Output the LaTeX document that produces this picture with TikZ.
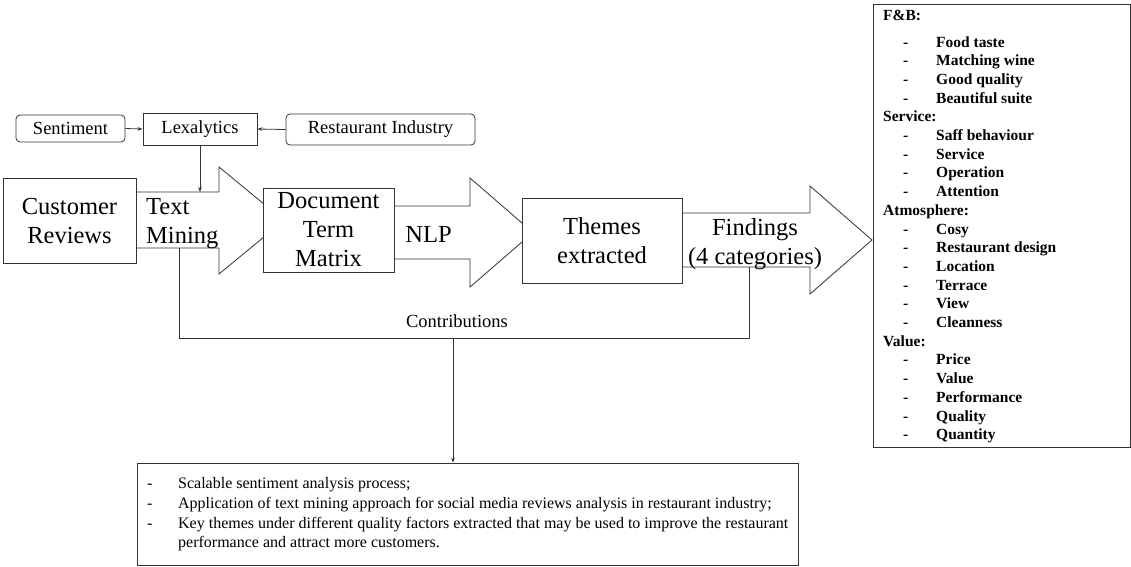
\documentclass[tikz,border=0pt]{standalone}
\usepackage{fontspec}
\setmainfont{Liberation Serif}
\usetikzlibrary{arrows.meta}
\begin{document}
\begin{tikzpicture}[x=1pt,y=-1pt,
  ln/.style={line width=0.8pt, draw=black!80},
  arr/.style={ln, -{Stealth[length=5pt,width=3.6pt]}},
  blk/.style={ln, fill=white, line join=miter},
  box/.style={ln, rectangle, fill=white, inner sep=0pt, align=center},
  rbox/.style={box, rounded corners=4pt},
  small/.style={font=\rmfamily\fontsize{18.5}{22}\selectfont},
  big/.style={font=\rmfamily\fontsize{24.5}{29}\selectfont},
  lbl/.style={inner sep=0pt, align=center}]
\useasboundingbox (0,0) rectangle (1131,566);

% block arrows
\draw[blk] (130,192) -- (219,192) -- (219,167) -- (284,220.5) -- (219,274) -- (219,248) -- (130,248) -- cycle;
\draw[blk] (390,206) -- (470,206) -- (470,178) -- (533,232.5) -- (470,287) -- (470,259) -- (390,259) -- cycle;
\draw[blk] (678,213) -- (810,213) -- (810,186) -- (872,240) -- (810,294) -- (810,267) -- (678,267) -- cycle;

% boxes
\node[rbox, small, minimum width=109, minimum height=27] (sent) at (70.5,128.5) {Sentiment};
\node[box, small, minimum width=114, minimum height=32] (lex) at (200,129) {Lexalytics};
\node[rbox, small, minimum width=189, minimum height=31] (rest) at (380.5,129.5) {Restaurant Industry};
\node[box, big, minimum width=133, minimum height=85] (cust) at (69.5,221) {Customer\\Reviews};
\node[box, big, minimum width=131, minimum height=84] (dtm) at (328.5,230) {Document\\Term\\Matrix};
\node[box, big, minimum width=160, minimum height=85] (theme) at (602,241) {Themes\\extracted};
\node[box, minimum width=257, minimum height=443] (cats) at (1001.5,225.5) {};
\node[box, minimum width=661, minimum height=102] (bot) at (467.5,514) {};

% labels on arrows
\node[lbl, big, anchor=west, align=left] (tm) at (146,223.5) {Text\\Mining};
\node[lbl, big] (nlp) at (428.5,234) {NLP};
\node[lbl, big] (find) at (755,244) {Findings\\(4 categories)};
\node[lbl, small] (contrib) at (457,321) {Contributions};

% category list
\node[inner sep=0pt, anchor=north west, align=left,
      font=\rmfamily\bfseries\fontsize{15.5}{18.7}\selectfont] (cattext) at (883,9.5) {%
F\&B:\\[8.3pt]
\hspace*{20pt}\makebox[33pt][l]{-}Food taste\\
\hspace*{20pt}\makebox[33pt][l]{-}Matching wine\\
\hspace*{20pt}\makebox[33pt][l]{-}Good quality\\
\hspace*{20pt}\makebox[33pt][l]{-}Beautiful suite\\
Service:\\
\hspace*{20pt}\makebox[33pt][l]{-}Saff behaviour\\
\hspace*{20pt}\makebox[33pt][l]{-}Service\\
\hspace*{20pt}\makebox[33pt][l]{-}Operation\\
\hspace*{20pt}\makebox[33pt][l]{-}Attention\\
Atmosphere:\\
\hspace*{20pt}\makebox[33pt][l]{-}Cosy\\
\hspace*{20pt}\makebox[33pt][l]{-}Restaurant design\\
\hspace*{20pt}\makebox[33pt][l]{-}Location\\
\hspace*{20pt}\makebox[33pt][l]{-}Terrace\\
\hspace*{20pt}\makebox[33pt][l]{-}View\\
\hspace*{20pt}\makebox[33pt][l]{-}Cleanness\\
Value:\\
\hspace*{20pt}\makebox[33pt][l]{-}Price\\
\hspace*{20pt}\makebox[33pt][l]{-}Value\\
\hspace*{20pt}\makebox[33pt][l]{-}Performance\\
\hspace*{20pt}\makebox[33pt][l]{-}Quality\\
\hspace*{20pt}\makebox[33pt][l]{-}Quantity};

% contributions list
\node[inner sep=0pt, anchor=north west, align=left,
      font=\rmfamily\fontsize{16}{19.6}\selectfont] (contlist) at (147,477.5) {%
\makebox[31pt][l]{-}Scalable sentiment analysis process;\\
\makebox[31pt][l]{-}Application of text mining approach for social media reviews analysis in restaurant industry;\\
\makebox[31pt][l]{-}Key themes under different quality factors extracted that may be used to improve the restaurant\\
\makebox[31pt][l]{}performance and attract more customers.};

% connectors
\coordinate (tmtop) at (200,192);
\draw[arr] (sent.east) -- (lex.west);
\draw[arr] (rest.west) -- (lex.east);
\draw[arr] (lex.south) -- (tmtop);

\coordinate (b1) at (179,248);
\coordinate (b2) at (179,338);
\coordinate (b3) at (749,338);
\coordinate (b4) at (749,267);
\coordinate (bm) at (453,338);
\draw[ln] (b1) -- (b2) -- (b3) -- (b4);
\draw[arr] (bm) -- (bm |- bot.north);
\end{tikzpicture}
\end{document}
